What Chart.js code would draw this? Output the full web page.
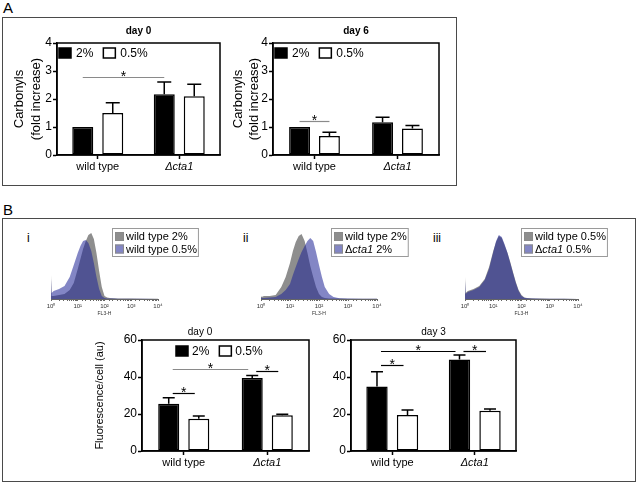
<!DOCTYPE html>
<html>
<head>
<meta charset="utf-8">
<title>Carbonyls and FL3-H fluorescence</title>
<script src="https://cdn.jsdelivr.net/npm/chart.js@4.4.1/dist/chart.umd.min.js"></script>
<style>
  body { margin: 0; background: #fff; }
  #fig { position: relative; width: 638px; height: 486px; overflow: hidden; font-family: "Liberation Sans", Arial, sans-serif; color: #000; }
  .frame { position: absolute; box-sizing: border-box; border: 1px solid #4a4a4a; }
  .tag { position: absolute; font-size: 15px; line-height: 16px; }
  .sub { position: absolute; font-size: 12px; line-height: 14px; }
  canvas { position: absolute; }
</style>
</head>
<body>
<div id="fig">
  <div class="tag" style="left:3px;top:0px">A</div>
  <div class="frame" style="left:2px;top:17px;width:455px;height:169px"></div>
  <div class="tag" style="left:3px;top:202px">B</div>
  <div class="frame" style="left:2px;top:218px;width:634px;height:264px"></div>
  <div class="sub" style="left:27px;top:231px">i</div>
  <div class="sub" style="left:243px;top:231px">ii</div>
  <div class="sub" style="left:433px;top:231px">iii</div>
  <canvas id="carb0" width="216" height="158" style="left:10px;top:20px"></canvas>
  <canvas id="carb6" width="214" height="158" style="left:230px;top:20px"></canvas>
  <canvas id="hist1" width="180" height="95" style="left:30px;top:222px"></canvas>
  <canvas id="hist2" width="180" height="95" style="left:240px;top:222px"></canvas>
  <canvas id="hist3" width="180" height="95" style="left:444px;top:222px"></canvas>
  <canvas id="flu0" width="244" height="150" style="left:90px;top:322px"></canvas>
  <canvas id="flu3" width="190" height="150" style="left:329px;top:322px"></canvas>
</div>
<script>
// ---- data ----
const groups = ['wild type', 'Δcta1'];
const doseLabels = ['2%', '0.5%'];

// A: carbonyls, fold increase
const carbTicks = [0, 1, 2, 3, 4];
const carbDay0High = [1.0, 2.17];
const carbDay0HighErr = [0, 0.44];
const carbDay0Low = [1.5, 2.1];
const carbDay0LowErr = [0.37, 0.43];
const carbDay6High = [1.0, 1.17];
const carbDay6HighErr = [0, 0.18];
const carbDay6Low = [0.68, 0.95];
const carbDay6LowErr = [0.13, 0.1];
// significance: [series, group, series, group, level]
const carbDay0Sig = [[0, 0, 0, 1, 2.8]];
const carbDay6Sig = [[0, 0, 1, 0, 1.23]];

// B: fluorescence per cell (au)
const fluTicks = [0, 20, 40, 60];
const fluDay0High = [25.6, 39.5];
const fluDay0HighErr = [3.2, 1.3];
const fluDay0Low = [17.5, 19.3];
const fluDay0LowErr = [1.4, 0.6];
const fluDay3High = [34.8, 49.4];
const fluDay3HighErr = [8.1, 2.5];
const fluDay3Low = [19.5, 21.8];
const fluDay3LowErr = [2.7, 0.9];
const fluDay0Sig = [[0, 0, 0, 1, 44.3], [0, 0, 1, 0, 31.4], [0, 1, 1, 1, 43.4]];
const fluDay3Sig = [[0, 0, 0, 1, 54.2], [0, 0, 1, 0, 46.6], [0, 1, 1, 1, 54.2]];

// flow cytometry histograms (FL3-H channel, counts)
const fl3Bins = [1, 1.05, 1.26, 2, 3.2, 5, 7.1, 10, 12.6, 15.8, 20, 25, 32, 40, 50, 63, 79, 100, 126, 158, 224, 316, 500, 1000, 3160, 10000];
const fl3Decades = [1, 10, 100, 1000, 10000];
const histIWt2 = [24, 3, 3, 4, 5, 9, 16, 30, 40, 50, 58, 64, 66, 60, 46, 28, 12, 3, 1.5, 1, 0.8, 0.6, 0.5, 0.4, 0.3, 0.2];
const histIWt05 = [20, 6, 8, 10, 13, 22, 34, 46, 53, 58, 59, 56, 48, 36, 22, 10, 3, 1, 0.6, 0.5, 0.4, 0.3, 0.3, 0.2, 0.2, 0.1];
const histIIWt2 = [3, 2, 3, 3, 4, 12, 22, 36, 48, 57, 63, 65, 58, 46, 33, 22, 12, 5, 2, 1, 0.6, 0.5, 0.4, 0.3, 0.3, 0.2];
const histIICta2 = [2, 1, 1, 1.5, 2, 5, 9, 15, 24, 32, 40, 47, 53, 58, 61, 58, 47, 34, 22, 12, 5, 2, 0.8, 0.4, 0.3, 0.2];
const histIIIWt05 = [22, 6, 8, 10, 13, 20, 32, 48, 57, 63, 61, 54, 46, 37, 27, 17, 9, 4, 1.5, 1, 0.7, 0.5, 0.4, 0.3, 0.2, 0.1];
const histIIICta05 = [18, 5, 7, 9, 12, 19, 30, 47, 58, 64, 62, 55, 46, 36, 26, 16, 8, 3, 1.2, 0.8, 0.6, 0.4, 0.3, 0.3, 0.2, 0.1];

// ---- setup ----
Chart.defaults.font.family = '"Liberation Sans", Arial, sans-serif';
Chart.defaults.color = '#000';
Chart.defaults.animation = false;
const FONT = Chart.defaults.font.family;

// draws "Δcta1 ..." with the gene name in italics
function richText(ctx, text, x, y, size) {
  text.split(/(cta1)/).forEach(part => {
    if (!part) return;
    ctx.font = (part === 'cta1' ? 'italic ' : '') + size + 'px ' + FONT;
    ctx.fillText(part, x, y);
    x += ctx.measureText(part).width;
  });
  return x;
}

function richWidth(ctx, text, size) {
  let w = 0;
  text.split(/(cta1)/).forEach(part => {
    if (!part) return;
    ctx.font = (part === 'cta1' ? 'italic ' : '') + size + 'px ' + FONT;
    w += ctx.measureText(part).width;
  });
  return w;
}

const plotFrame = {
  id: 'plotFrame',
  afterDatasetsDraw(chart) {
    const {ctx, chartArea: a} = chart;
    ctx.save();
    ctx.strokeStyle = '#000';
    ctx.lineWidth = 1.5;
    ctx.strokeRect(a.left, a.top, a.right - a.left, a.bottom - a.top);
    ctx.restore();
  }
};

const errorBars = {
  id: 'errorBars',
  afterDatasetsDraw(chart, args, o) {
    const {ctx} = chart;
    const y = chart.scales.y;
    ctx.save();
    ctx.strokeStyle = '#000';
    ctx.lineWidth = 1.5;
    chart.data.datasets.forEach((ds, di) => {
      chart.getDatasetMeta(di).data.forEach((bar, i) => {
        const err = ds.errors[i];
        if (!err) return;
        const top = y.getPixelForValue(ds.data[i] + err);
        ctx.beginPath();
        ctx.moveTo(bar.x, bar.y);
        ctx.lineTo(bar.x, top);
        ctx.moveTo(bar.x - o.cap / 2, top);
        ctx.lineTo(bar.x + o.cap / 2, top);
        ctx.stroke();
      });
    });
    ctx.restore();
  }
};

const sigLines = {
  id: 'sigLines',
  afterDatasetsDraw(chart, args, o) {
    const {ctx} = chart;
    const y = chart.scales.y;
    ctx.save();
    o.lines.forEach((s, k) => {
      const a = chart.getDatasetMeta(s[0]).data[s[1]];
      const b = chart.getDatasetMeta(s[2]).data[s[3]];
      const py = Math.round(y.getPixelForValue(s[4])) + 0.5;
      ctx.strokeStyle = o.colors[k];
      ctx.lineWidth = 1.2;
      ctx.beginPath();
      ctx.moveTo(a.x + o.inset, py);
      ctx.lineTo(b.x - o.inset, py);
      ctx.stroke();
      ctx.fillStyle = '#000';
      ctx.font = '14px ' + FONT;
      ctx.textAlign = 'center';
      ctx.textBaseline = 'alphabetic';
      ctx.fillText('*', (a.x + b.x) / 2, py + 3.5);
    });
    ctx.restore();
  }
};

const innerLegend = {
  id: 'innerLegend',
  afterDraw(chart, args, o) {
    if (!o.show) return;
    const {ctx, chartArea} = chart;
    let x = chartArea.left + o.dx;
    const y = chartArea.top + o.dy;
    ctx.save();
    ctx.font = o.size + 'px ' + FONT;
    ctx.textBaseline = 'middle';
    chart.data.datasets.forEach(ds => {
      ctx.fillStyle = ds.backgroundColor;
      ctx.fillRect(x, y, 12, 10);
      ctx.strokeStyle = '#000';
      ctx.lineWidth = 1.5;
      ctx.strokeRect(x, y, 12, 10);
      x += 12 + o.gap;
      ctx.fillStyle = '#000';
      ctx.fillText(ds.label, x, y + 5.5);
      x += ctx.measureText(ds.label).width + o.spacing;
    });
    ctx.restore();
  }
};

const swatchLegend = {
  id: 'swatchLegend',
  afterDraw(chart, args, o) {
    const {ctx} = chart;
    const labels = chart.data.datasets.map(ds => ds.label);
    const w = 15 + Math.max(...labels.map(l => richWidth(ctx, l, 11)));
    ctx.save();
    ctx.fillStyle = '#fff';
    ctx.fillRect(o.x, o.y, w, 28);
    ctx.strokeStyle = '#9a9a9a';
    ctx.lineWidth = 1;
    ctx.strokeRect(o.x + 0.5, o.y + 0.5, w, 28);
    chart.data.datasets.forEach((ds, i) => {
      const top = o.y + 4 + i * 12.5;
      ctx.fillStyle = ds.backgroundColor;
      ctx.fillRect(o.x + 3, top, 9, 9);
      ctx.strokeStyle = '#8a8a8a';
      ctx.strokeRect(o.x + 3.5, top + 0.5, 8, 8);
      ctx.fillStyle = '#000';
      ctx.textBaseline = 'middle';
      richText(ctx, ds.label, o.x + 14, top + 5, 11);
    });
    ctx.restore();
  }
};

function barChart(id, cfg) {
  return new Chart(document.getElementById(id), {
    type: 'bar',
    data: {
      labels: groups,
      datasets: [
        { label: doseLabels[0], data: cfg.high, errors: cfg.highErr, backgroundColor: '#000', borderColor: '#000',
          borderWidth: 1.5, borderSkipped: false, categoryPercentage: cfg.cp, barPercentage: 0.7 },
        { label: doseLabels[1], data: cfg.low, errors: cfg.lowErr, backgroundColor: '#fff', borderColor: '#000',
          borderWidth: 1.5, borderSkipped: false, categoryPercentage: cfg.cp, barPercentage: 0.7 }
      ]
    },
    options: {
      responsive: false,
      layout: { padding: cfg.pad },
      plugins: {
        legend: { display: false },
        tooltip: { enabled: false },
        title: {
          display: true, text: cfg.title, fullSize: cfg.titleFull, color: '#000',
          font: { size: 10, weight: cfg.titleWeight, lineHeight: 1.2 },
          padding: { top: 0, bottom: cfg.titleGap }
        },
        errorBars: { cap: cfg.cap },
        sigLines: { lines: cfg.sig, colors: cfg.sigColors, inset: cfg.inset },
        innerLegend: cfg.legend
      },
      scales: {
        x: {
          ticks: {
            padding: 1,
            font: c => ({ size: 11, style: c.index === 1 ? 'italic' : 'normal' })
          },
          grid: { drawOnChartArea: false, offset: false, tickLength: 4, tickColor: '#000', tickWidth: 1.5 },
          border: { color: '#000', width: 1.5 },
          afterFit: s => { s.height = cfg.xHeight; }
        },
        y: {
          min: cfg.ticks[0],
          max: cfg.ticks[cfg.ticks.length - 1],
          afterBuildTicks: s => { s.ticks = cfg.ticks.map(v => ({ value: v })); },
          ticks: { padding: 1, font: { size: 12 } },
          grid: { drawOnChartArea: false, tickLength: 4, tickColor: '#000', tickWidth: 1.5 },
          border: { color: '#000', width: 1.5 },
          title: {
            display: !!cfg.yTitle, text: cfg.yTitle, color: '#000',
            font: { size: cfg.yTitleSize, lineHeight: cfg.yTitleLine },
            padding: { top: cfg.yTitlePad, bottom: 0 }
          },
          afterFit: s => { s.width = cfg.yWidth; }
        }
      }
    },
    plugins: [plotFrame, errorBars, sigLines, innerLegend]
  });
}

function histChart(id, cfg) {
  return new Chart(document.getElementById(id), {
    type: 'line',
    data: {
      datasets: [
        { label: cfg.names[0], data: fl3Bins.map((x, i) => ({ x, y: cfg.back[i] })), backgroundColor: '#8e8e8e',
          borderColor: 'rgba(0,0,0,0)', borderWidth: 0, pointRadius: 0, fill: 'origin', order: 1 },
        { label: cfg.names[1], data: fl3Bins.map((x, i) => ({ x, y: cfg.front[i] })), backgroundColor: 'rgba(30,35,150,0.55)',
          borderColor: 'rgba(0,0,0,0)', borderWidth: 0, pointRadius: 0, fill: 'origin', order: 0 }
      ]
    },
    options: {
      responsive: false,
      layout: { padding: cfg.pad },
      plugins: {
        legend: { display: false },
        tooltip: { enabled: false },
        swatchLegend: cfg.legend
      },
      scales: {
        x: {
          type: 'logarithmic',
          min: fl3Decades[0],
          max: fl3Decades[fl3Decades.length - 1],
          ticks: {
            autoSkip: false, maxRotation: 0, padding: 2, font: { size: 6 }, color: '#333',
            callback: v => {
              const k = fl3Decades.indexOf(v);
              return k < 0 ? '' : '10' + '⁰¹²³⁴'[k];
            }
          },
          grid: { drawOnChartArea: false, tickLength: 2, color: '#666' },
          border: { color: '#666', width: 1 },
          title: { display: true, text: 'FL3-H', font: { size: 5 }, color: '#333', padding: 0 },
          afterFit: s => { s.height = 18; }
        },
        y: { display: false, min: 0, max: 70 }
      }
    },
    plugins: [swatchLegend]
  });
}

// ---- panel A ----
barChart('carb0', {
  high: carbDay0High, highErr: carbDay0HighErr, low: carbDay0Low, lowErr: carbDay0LowErr,
  ticks: carbTicks, sig: carbDay0Sig, sigColors: ['#8a8a8a'], inset: 0, cap: 14, cp: 0.736,
  title: 'day 0', titleFull: false, titleWeight: 'bold', titleGap: 6,
  pad: { top: 5, left: 1, right: 6, bottom: 0 }, xHeight: 23, yWidth: 46,
  yTitle: ['Carbonyls', '(fold increase)'], yTitleSize: 13, yTitleLine: 17 / 13, yTitlePad: 0,
  legend: { show: true, dx: 2, dy: 5, gap: 5, spacing: 10, size: 12 }
});

barChart('carb6', {
  high: carbDay6High, highErr: carbDay6HighErr, low: carbDay6Low, lowErr: carbDay6LowErr,
  ticks: carbTicks, sig: carbDay6Sig, sigColors: ['#8a8a8a'], inset: 0, cap: 14, cp: 0.72,
  title: 'day 6', titleFull: false, titleWeight: 'bold', titleGap: 6,
  pad: { top: 5, left: 0, right: 5, bottom: 0 }, xHeight: 23, yWidth: 43,
  yTitle: ['Carbonyls', '(fold increase)'], yTitleSize: 13, yTitleLine: 16 / 13, yTitlePad: 0,
  legend: { show: true, dx: 2, dy: 5, gap: 5, spacing: 10, size: 12 }
});

// ---- panel B histograms ----
histChart('hist1', {
  names: ['wild type 2%', 'wild type 0.5%'], back: histIWt2, front: histIWt05,
  pad: { top: 7, left: 21, right: 52, bottom: 0 }, legend: { x: 82, y: 6 }
});
histChart('hist2', {
  names: ['wild type 2%', 'Δcta1 2%'], back: histIIWt2, front: histIICta2,
  pad: { top: 7, left: 21, right: 43, bottom: 0 }, legend: { x: 91, y: 6 }
});
histChart('hist3', {
  names: ['wild type 0.5%', 'Δcta1 0.5%'], back: histIIIWt05, front: histIIICta05,
  pad: { top: 7, left: 21, right: 46, bottom: 0 }, legend: { x: 77, y: 6 }
});

// ---- panel B bar charts ----
barChart('flu0', {
  high: fluDay0High, highErr: fluDay0HighErr, low: fluDay0Low, lowErr: fluDay0LowErr,
  ticks: fluTicks, sig: fluDay0Sig, sigColors: ['#8a8a8a', '#000', '#000'], inset: 4, cap: 12, cp: 0.72,
  title: 'day 0', titleFull: true, titleWeight: 'normal', titleGap: 2,
  pad: { top: 4, left: 1, right: 25, bottom: 0 }, xHeight: 21, yWidth: 51,
  yTitle: 'Fluorescence/cell (au)', yTitleSize: 11, yTitleLine: 13 / 11, yTitlePad: 2.5,
  legend: { show: true, dx: 34, dy: 6, gap: 4, spacing: 10, size: 12 }
});

barChart('flu3', {
  high: fluDay3High, highErr: fluDay3HighErr, low: fluDay3Low, lowErr: fluDay3LowErr,
  ticks: fluTicks, sig: fluDay3Sig, sigColors: ['#000', '#000', '#000'], inset: 4, cap: 12, cp: 0.74,
  title: 'day 3', titleFull: false, titleWeight: 'normal', titleGap: 2,
  pad: { top: 4, left: 1, right: 3, bottom: 0 }, xHeight: 21, yWidth: 21,
  yTitle: null, yTitleSize: 11, yTitleLine: 1.2, yTitlePad: 0,
  legend: { show: false }
});
</script>
</body>
</html>
